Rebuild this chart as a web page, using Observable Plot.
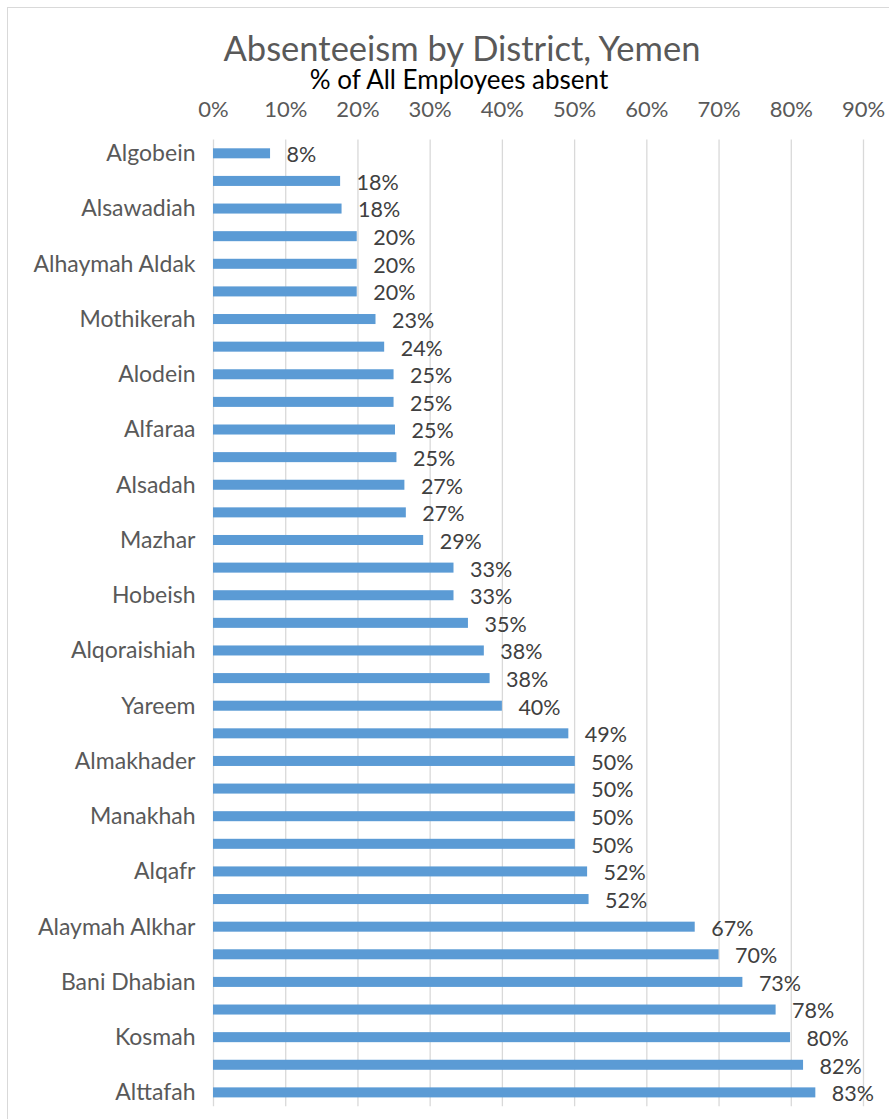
<!DOCTYPE html>
<html>
<head>
<meta charset="utf-8">
<script src="https://cdn.jsdelivr.net/npm/d3@7"></script>
<script src="https://cdn.jsdelivr.net/npm/@observablehq/plot@0.6"></script>
<style>
  html, body { margin: 0; padding: 0; background: #fff; overflow: hidden; }
  body { width: 889px; height: 1119px; position: relative; font-family: Lato, sans-serif; }
  #frame { position: absolute; left: 7px; top: 7px; width: 1000px; height: 1200px;
           border-left: 1.5px solid #d9d9d9; border-top: 1.5px solid #d9d9d9; }
  #title { position: absolute; left: 0; width: 924px; top: 31px; text-align: center;
           font-size: 34.5px; line-height: 34.5px; color: #595959; white-space: nowrap; }
  #subtitle { position: absolute; left: 0; width: 918px; top: 66px; text-align: center;
              font-size: 26px; line-height: 26px; color: #000; white-space: nowrap; }
  #chart { position: absolute; left: 0; top: 92px; }
</style>
</head>
<body>
<div id="frame"></div>
<div id="title">Absenteeism by District, Yemen</div>
<div id="subtitle">% of All Employees absent</div>
<div id="chart"></div>
<script>
const districts = ["Algobein","","Alsawadiah","","Alhaymah Aldak","","Mothikerah","","Alodein","",
  "Alfaraa","","Alsadah","","Mazhar","","Hobeish","","Alqoraishiah","","Yareem","","Almakhader","",
  "Manakhah","","Alqafr","","Alaymah Alkhar","","Bani Dhabian","","Kosmah","","Alttafah"];
const absentPct = [7.9, 17.6, 17.8, 19.9, 19.9, 19.9, 22.5, 23.7, 25.0, 25.0, 25.2, 25.4, 26.5, 26.7,
  29.1, 33.3, 33.3, 35.3, 37.5, 38.3, 40.0, 49.2, 50.1, 50.1, 50.1, 50.1, 51.8, 52.0, 66.7, 70.0,
  73.3, 77.9, 79.9, 81.7, 83.4];
const xTicks = [0, 10, 20, 30, 40, 50, 60, 70, 80, 90];

const rows = absentPct.map((v, i) => ({i, name: districts[i], value: v}));

const chart = Plot.plot({
  width: 889,
  height: 1027,
  marginTop: 47.5,
  marginBottom: 12.8,
  marginLeft: 213,
  marginRight: 26,
  style: {fontFamily: "Lato, sans-serif", background: "transparent", overflow: "visible"},
  x: {domain: [0, 90], axis: null},
  y: {domain: d3.range(districts.length), padding: 0, round: false, axis: null},
  marks: [
    Plot.ruleX(xTicks, {stroke: "#d9d9d9", strokeWidth: 1.3}),
    Plot.axisX(xTicks, {anchor: "top", tickSize: 0, tickPadding: 23.5, fontSize: 22,
      fill: "#595959", tickFormat: d => d + "%", label: null}),
    Plot.axisY({anchor: "left", tickSize: 0, tickPadding: 18, fontSize: 23, fill: "#595959",
      tickFormat: i => districts[i], label: null}),
    Plot.barX(rows, {x: "value", y: "i", fill: "#5b9bd5", insetTop: 8.8, insetBottom: 8.8}),
    Plot.text(rows, {x: "value", y: "i", text: d => Math.round(d.value) + "%", textAnchor: "start",
      dx: 16, dy: 1.5, fontSize: 21.5, fill: "#404040"})
  ]
});
document.getElementById("chart").appendChild(chart);
</script>
</body>
</html>
